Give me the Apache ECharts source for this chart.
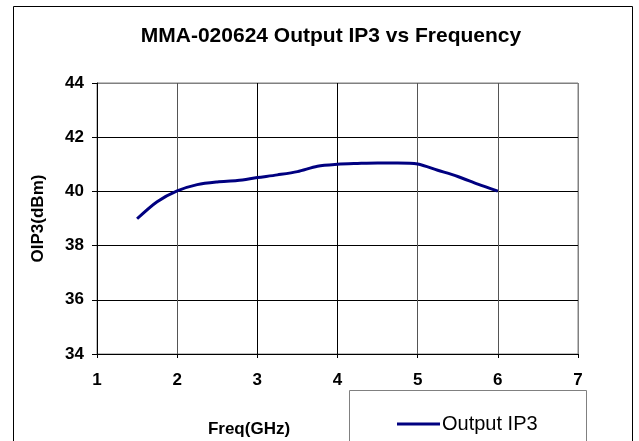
<!DOCTYPE html>
<html>
<head>
<meta charset="utf-8">
<script src="https://cdn.jsdelivr.net/npm/echarts@6/dist/echarts.min.js"></script>
<style>
html,body{margin:0;padding:0;background:#fff;}
#c{width:639px;height:441px;}
</style>
</head>
<body>
<div id="c"></div>
<script>
const titleText = 'MMA-020624 Output IP3 vs Frequency';
const seriesName = 'Output IP3';
const xAxisName = 'Freq(GHz)';
const yAxisName = 'OIP3(dBm)';
const freq = [1.5, 1.75, 2.0, 2.25, 2.5, 2.75, 3.0, 3.25, 3.5, 3.75, 4.0, 4.25, 4.5, 4.75, 5.0, 5.25, 5.5, 5.75, 6.0];
const oip3 = [38.99, 39.62, 40.02, 40.25, 40.35, 40.40, 40.51, 40.61, 40.73, 40.93, 41.00, 41.03, 41.05, 41.05, 41.01, 40.78, 40.55, 40.27, 40.01];

const FONT = '"Liberation Sans", Arial, sans-serif';
const chart = echarts.init(document.getElementById('c'), null, {renderer: 'canvas'});
chart.setOption({
  animation: false,
  backgroundColor: '#fff',
  title: {
    text: titleText,
    left: 326, textAlign: 'center',
    top: 21,
    textStyle: {fontFamily: FONT, fontSize: 21, fontWeight: 'bold', color: '#000'}
  },
  grid: {
    left: 97, right: 61, top: 83, bottom: 87,
    show: true, borderColor: '#808080', borderWidth: 1
  },
  legend: {
    data: [seriesName],
    left: 392, top: 409,
    icon: 'rect', itemWidth: 43, itemHeight: 3, itemGap: 0,
    textStyle: {fontFamily: FONT, fontSize: 20, color: '#000', padding: [0, 0, 0, -3]}
  },
  xAxis: {
    type: 'value', min: 1, max: 7, interval: 1,
    axisLine: {show: true, lineStyle: {color: '#000', width: 1}},
    axisTick: {show: true, length: 4, lineStyle: {color: '#000'}},
    axisLabel: {fontFamily: FONT, fontSize: 17, fontWeight: 'bold', color: '#000', margin: 18},
    splitLine: {show: true, lineStyle: {color: ['#000','#555','#000','#000','#555','#555','#808080'], width: 1}}
  },
  yAxis: {
    type: 'value', min: 34, max: 44, interval: 2,
    name: yAxisName, nameLocation: 'middle', nameGap: 50, nameRotate: 90,
    nameTextStyle: {fontFamily: FONT, fontSize: 17, fontWeight: 'bold', color: '#000'},
    axisLine: {show: true, lineStyle: {color: '#000', width: 1}},
    axisTick: {show: true, length: 5, lineStyle: {color: '#000'}},
    axisLabel: {fontFamily: FONT, fontSize: 17, fontWeight: 'bold', color: '#000', margin: 13},
    splitLine: {show: true, lineStyle: {color: ['#000','#000','#000','#000','#000','#808080'], width: 1}}
  },
  graphic: [
    {type: 'rect', shape: {x: 13.5, y: 6.5, width: 619, height: 450}, style: {fill: 'none', stroke: '#000', lineWidth: 1}, silent: true, z: 0},
    {type: 'rect', shape: {x: 349.5, y: 390.5, width: 237, height: 70}, style: {fill: '#fff', stroke: '#808080', lineWidth: 1}, silent: true, z: 1},
    {type: 'text', x: 249, y: 429, style: {text: xAxisName, font: 'bold 17px ' + FONT, fill: '#000', textAlign: 'center', textVerticalAlign: 'middle'}, silent: true, z: 5}
  ],
  series: [{
    name: seriesName,
    type: 'line',
    data: freq.map((f, i) => [f, oip3[i]]),
    smooth: 0.3,
    showSymbol: false,
    symbol: 'none',
    lineStyle: {color: '#000080', width: 3},
    itemStyle: {color: '#000080'},
    z: 3
  }]
});
</script>
</body>
</html>
